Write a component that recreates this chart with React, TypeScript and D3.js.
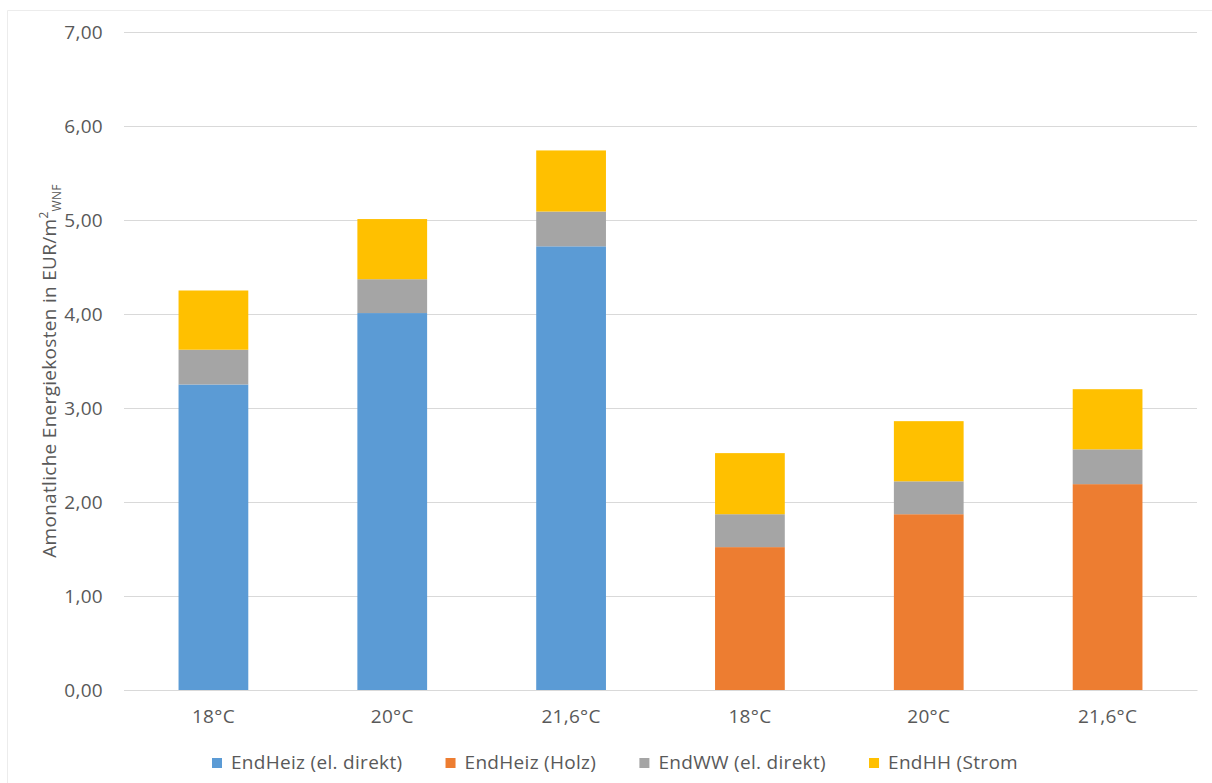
import { useEffect, useRef } from "react";
import * as d3 from "d3";

const categories = ["18°C", "20°C", "21,6°C", "18°C ", "20°C ", "21,6°C "];
const seriesNames = ["EndHeiz (el. direkt)", "EndHeiz (Holz)", "EndWW (el. direkt)", "EndHH (Strom"];
const seriesColors = ["#5b9bd5", "#ed7d31", "#a5a5a5", "#ffc000"];
const heizElDirekt = [3.25, 4.01, 4.72, 0, 0, 0];
const heizHolz = [0, 0, 0, 1.52, 1.87, 2.19];
const wwElDirekt = [0.37, 0.36, 0.37, 0.35, 0.35, 0.37];
const hhStrom = [0.63, 0.64, 0.65, 0.65, 0.64, 0.64];
const yTicks = [0, 1, 2, 3, 4, 5, 6, 7];

const W = 1212;
const H = 783;
const FONT = "'Open Sans', 'Liberation Sans', sans-serif";
const FS = 19;
const LS = "0.3px";

export default function App() {
  const svgRef = useRef<SVGSVGElement>(null);

  useEffect(() => {
    if (!svgRef.current) return;
    const svg = d3.select(svgRef.current);
    svg.selectAll("*").remove();

    const margin = { top: 32, right: 15, bottom: 93, left: 124 };
    const innerW = W - margin.left - margin.right;
    const innerH = H - margin.top - margin.bottom;

    const rows = categories.map((c, i) => ({
      cat: c,
      s0: heizElDirekt[i],
      s1: heizHolz[i],
      s2: wwElDirekt[i],
      s3: hhStrom[i],
    }));
    const keys = ["s0", "s1", "s2", "s3"];
    const stacked = d3.stack<any>().keys(keys)(rows);

    const x = d3.scaleBand().domain(categories).range([0, innerW]).paddingInner(0.61).paddingOuter(0.305);
    const y = d3.scaleLinear().domain([0, 7]).range([innerH, 0]);

    // faint chart border
    svg.append("path")
      .attr("d", `M7.5,${H} V10.5 H${W}`)
      .attr("fill", "none")
      .attr("stroke", "#ececec");

    const g = svg.append("g").attr("transform", `translate(${margin.left},${margin.top})`);

    // gridlines
    g.append("g")
      .call(d3.axisLeft(y).tickValues(yTicks).tickSize(-innerW).tickFormat(() => ""))
      .call((a) => {
        a.select(".domain").remove();
        a.selectAll("line").attr("stroke", "#d9d9d9").attr("stroke-width", 1);
      });

    // y labels
    g.append("g")
      .call(d3.axisLeft(y).tickValues(yTicks).tickSize(0).tickPadding(21)
        .tickFormat((d) => d3.format(".2f")(d as number).replace(".", ",")))
      .call((a) => {
        a.select(".domain").remove();
        a.selectAll("text")
          .attr("fill", "#595959")
          .attr("font-size", `${FS}px`)
          .attr("font-family", FONT)
          .attr("letter-spacing", LS);
      });

    // bars
    stacked.forEach((layer, li) => {
      g.append("g")
        .attr("fill", seriesColors[li])
        .selectAll("rect")
        .data(layer)
        .join("rect")
        .attr("x", (d) => x(d.data.cat)!)
        .attr("width", x.bandwidth())
        .attr("y", (d) => y(d[1]))
        .attr("height", (d) => Math.max(0, y(d[0]) - y(d[1])));
    });

    // x axis
    g.append("g")
      .attr("transform", `translate(0,${innerH})`)
      .call(d3.axisBottom(x).tickSize(0).tickPadding(20).tickFormat((d) => (d as string).trim()))
      .call((a) => {
        a.select(".domain").attr("stroke", "#d9d9d9");
        a.selectAll("text")
          .attr("fill", "#595959")
          .attr("font-size", `${FS}px`)
          .attr("font-family", FONT)
          .attr("letter-spacing", LS);
      });

    // y axis title
    const title = svg.append("text")
      .attr("transform", `translate(56,371) rotate(-90)`)
      .attr("text-anchor", "middle")
      .attr("fill", "#595959")
      .attr("font-size", `${FS}px`)
      .attr("font-family", FONT)
      .attr("letter-spacing", LS);
    title.append("tspan").text("Amonatliche Energiekosten in EUR/m");
    title.append("tspan").attr("dy", -8).attr("font-size", "12px").text("2");
    title.append("tspan").attr("dy", 13).attr("font-size", "12px").text("WNF");

    // legend, laid out left to right from measured text widths
    const legend = svg.append("g").attr("transform", `translate(0,769)`);
    const items = seriesNames.map((name, i) => {
      const it = legend.append("g");
      it.append("rect")
        .attr("y", -11)
        .attr("width", 10)
        .attr("height", 10)
        .attr("fill", seriesColors[i]);
      const t = it.append("text")
        .attr("x", 19)
        .attr("fill", "#595959")
        .attr("font-size", `${FS}px`)
        .attr("font-family", FONT)
        .attr("letter-spacing", LS)
        .text(name);
      return { it, w: 19 + (t.node() as SVGTextElement).getComputedTextLength() };
    });
    const start = 212;
    const end = 1018;
    const total = d3.sum(items, (d) => d.w);
    const gap = (end - start - total) / (items.length - 1);
    let cx = start;
    items.forEach((d) => {
      d.it.attr("transform", `translate(${cx},0)`);
      cx += d.w + gap;
    });
  }, []);

  return (
    <svg
      ref={svgRef}
      width={W}
      height={H}
      style={{ position: "absolute", left: 0, top: 0, background: "#fff" }}
    />
  );
}
